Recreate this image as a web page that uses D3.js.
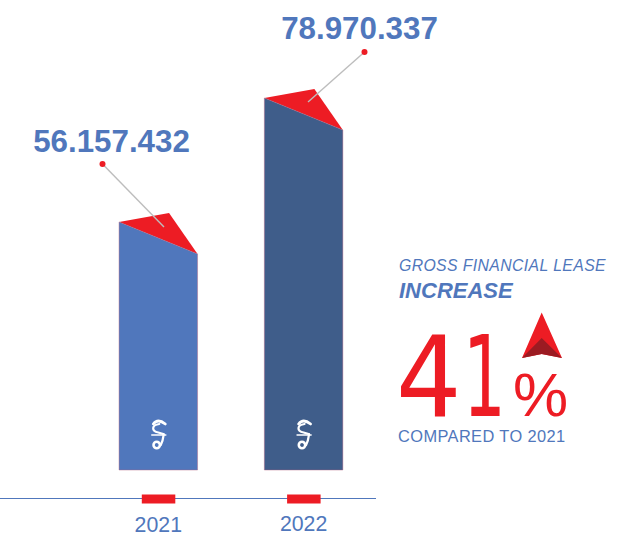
<!DOCTYPE html>
<html><head><meta charset="utf-8">
<script src="https://cdn.jsdelivr.net/npm/d3@7"></script>
<style>html,body{margin:0;padding:0;background:#fff}svg{display:block}text{font-family:"Liberation Sans",Arial,sans-serif}</style>
</head><body><svg id="c" width="642" height="536"></svg>
<script>
const categories = ["2021","2022"];
const values = [56157432,78970337];
const valueLabels = ["56.157.432","78.970.337"];
const barColors = ["#5077bc","#3f5d8a"];
const BLUE="#5077bc", RED="#ed1c24";
const svg=d3.select("#c");
const x=d3.scalePoint().domain(categories).range([158.3,303.6]);
const y=d3.scaleLinear().domain([10530000,78970337]).range([470,98]);
const bw=78.5, base=y(10530000);
const labelX=[111.5,359.5], labelY=[152,39];

svg.append("line").attr("x1",0).attr("x2",376).attr("y1",498.5).attr("y2",498.5).attr("stroke","#5077bc").attr("stroke-width",1.2);

categories.forEach((c,i)=>{
  const cx=x(c), l=cx-bw/2, r=cx+bw/2, t=y(values[i]);
  svg.append("path").attr("d",`M${l},${t}L${l+50},${t-9}L${r},${t+32}Z`).attr("fill",RED);
  svg.append("path").attr("d",`M${l},${t}L${r},${t+32}L${r},${base}L${l},${base}Z`).attr("fill",barColors[i]).attr("stroke","#b5607f").attr("stroke-width",0.6).attr("stroke-opacity",.7);
  const tipX=i==0?164:308, tipY=i==0?227:102, dotX=i==0?102.5:364.5, dotY=i==0?164:52;
  svg.append("line").attr("x1",dotX).attr("y1",dotY).attr("x2",tipX).attr("y2",tipY).attr("stroke","#bdbdbd").attr("stroke-width",1.4);
  svg.append("circle").attr("cx",dotX).attr("cy",dotY).attr("r",3).attr("fill",RED);
  svg.append("text").attr("x",labelX[i]).attr("y",labelY[i]).attr("text-anchor","middle").attr("font-size",31.3).attr("font-weight","bold").attr("fill",BLUE).text(valueLabels[i]);
  const g=svg.append("g").attr("transform",`translate(${cx},435)`).attr("fill","none").attr("stroke","#fff").attr("stroke-linecap","round");
  g.append("path").attr("d","M-5,-11 C-2,-15 2,-15 7,-11").attr("stroke-width",2.8);
  g.append("path").attr("d","M1,-11 C-7,-10 -7,-4 0,-2.5 L5,-1").attr("stroke-width",2.2);
  g.append("path").attr("d","M5.5,-1 C5,3 4,7 2.5,10").attr("stroke-width",2.2);
  g.append("path").attr("d","M-6.5,0 L7.5,0").attr("stroke-width",1.6);
  g.append("circle").attr("cx",-1.6).attr("cy",10).attr("r",3.2).attr("stroke-width",2.6);
  svg.append("rect").attr("x",cx-16.5).attr("y",494.5).attr("width",33.5).attr("height",9).attr("fill",RED);
  svg.append("text").attr("x",cx).attr("y",i==0?531.5:530.5).attr("text-anchor","middle").attr("font-size",21.3).attr("fill",BLUE).text(c);
});

svg.append("text").attr("x",399).attr("y",271).attr("font-size",15.8).attr("letter-spacing",0.38).attr("font-style","italic").attr("fill",BLUE).text("GROSS FINANCIAL LEASE");
svg.append("text").attr("x",399).attr("y",298).attr("font-size",22).attr("font-weight","bold").attr("font-style","italic").attr("fill",BLUE).text("INCREASE");
svg.append("text").attr("transform","translate(396,416) scale(0.92,1)").attr("font-size",112).style("font-family","DejaVu Sans").attr("fill",RED).text("4");
svg.append("text").attr("transform","translate(463,416) scale(0.6,1)").attr("font-size",112).style("font-family","DejaVu Sans").attr("fill",RED).text("1");
svg.append("text").attr("x",513).attr("y",416).attr("font-size",62).attr("fill",RED).text("%");
svg.append("text").attr("x",398).attr("y",442).attr("font-size",16.4).attr("letter-spacing",0.4).attr("fill",BLUE).text("COMPARED TO 2021");
svg.append("path").attr("d","M541.7,312.5L522,358L541.7,354L562,358Z").attr("fill",RED);
svg.append("path").attr("d","M541.7,338L522,358L541.7,354L562,358Z").attr("fill","#9b1b22");
</script></body></html>
